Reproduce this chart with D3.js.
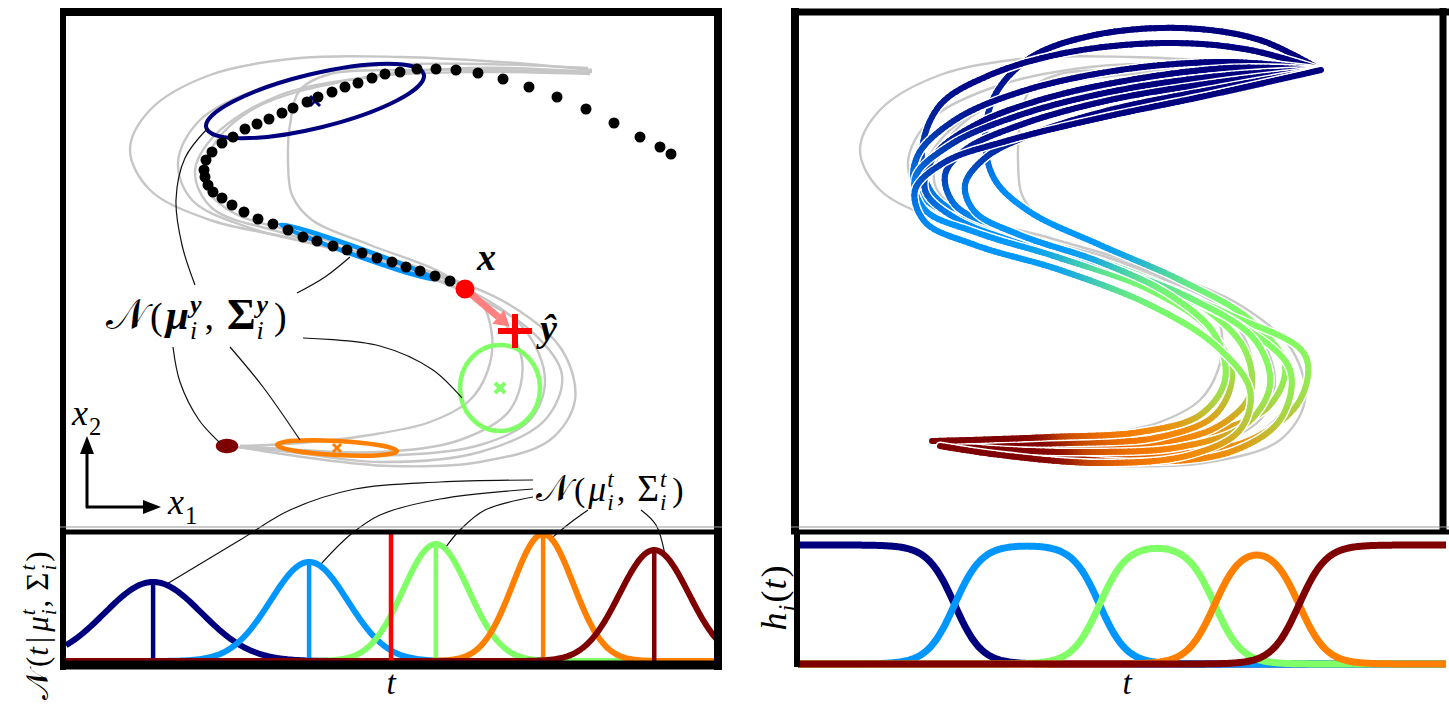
<!DOCTYPE html>
<html>
<head>
<meta charset="utf-8">
<script src="https://cdn.jsdelivr.net/npm/d3@7"></script>
<style>
  html, body { margin: 0; padding: 0; background: #fff; }
  svg { display: block; }
</style>
</head>
<body>
<svg id="fig" width="1449" height="705"></svg>
<script>
// ---------- model components (time-driven GMM, 5 states) ----------
const componentColors = ["#00007f", "#0096ff", "#80ff66", "#ff8000", "#7f0000"];
const timeMeans  = [0.134, 0.374, 0.569, 0.734, 0.905];
const timeSigmas = [0.0747, 0.0596, 0.0505, 0.0465, 0.0532];
const switchTimes = [0.244, 0.467, 0.644, 0.774];
const switchRate = 48;
const tNow = 0.5;

// spatial Gaussians N(mu_i^y, Sigma_i^y): centre (x1, x2), semi-axes, orientation in degrees
const spaceMeans  = [[249, 428], [292, 277], [434, 141], [271, 81], [161, 83]];
const spaceRadii  = [[112, 27], [82, 4], [40, 43], [60, 7], [9, 5]];
const spaceAngles = [13.7, -19.5, 0, -3, 0];

// demonstrations (x1, x2)
const demoA = [[526,459],[434,467],[334,472],[234,471],[144,454],[84,419],[64,379],[84,339],[144,309],[224,291],[314,267],[394,239],[464,199],[496,154],[479,109],[414,77],[314,67],[224,77],[169,82]];
const demoB = [[526,457],[434,459],[334,459],[264,455],[234,439],[224,404],[222,369],[226,334],[246,309],[304,284],[374,257],[414,229],[426,194],[422,159],[404,129],[364,107],[304,94],[234,86],[174,83]];
const demoC = [[524,455],[414,457],[314,453],[214,434],[149,394],[129,357],[146,321],[214,297],[314,271],[399,241],[459,199],[479,149],[464,109],[414,84],[334,74],[244,77],[174,82]];
const demoD = [[522,461],[414,465],[304,463],[204,444],[134,409],[112,367],[126,329],[184,301],[274,279],[364,253],[429,217],[456,169],[444,119],[394,89],[314,77],[234,79],[174,83]];
const demoE = [[524,457],[404,461],[284,449],[189,421],[146,381],[139,344],[166,317],[254,291],[354,261],[444,224],[496,179],[509,129],[484,89],[414,67],[324,63],[244,71],[179,81]];
const demos = [demoA, demoB, demoC, demoD, demoE];

// observed partial trajectory, current input x and prediction y-hat
const observed = [[605,375],[594,382],[574,392],[548,406],[520,420],[491,432],[463,442],[437,450],[412,456],[390,459],[370,460],[351,460],[334,457],[319,455],[306,451],[292,446],[279,442],[266,437],[252,432],[241,427],[227,421],[216,416],[203,410],[191,405],[179,400],[167,392],[156,386],[146,377],[140,369],[138,359],[139,352],[142,344],[147,337],[156,331],[166,324],[178,317],[192,310],[207,305],[222,299],[237,292],[251,288],[267,283],[281,279],[296,276],[311,271],[326,267],[340,262],[354,258],[369,253],[384,248]];
const currentPoint = [399, 240];
const predicted = [449, 198];

// reproductions (x1, x2)
const repro1 = [[525,459],[464,489],[384,501],[294,493],[234,471],[199,434],[189,389],[199,349],[234,317],[304,284],[384,249],[454,209],[489,164],[474,124],[424,99],[334,87],[234,83],[159,83]];
const repro2 = [[525,459],[454,479],[374,486],[274,477],[194,454],[144,424],[126,379],[134,339],[169,311],[244,284],[344,251],[434,214],[509,174],[504,129],[454,89],[364,74],[254,77],[149,84]];
const repro3 = [[525,459],[434,467],[324,459],[224,437],[159,409],[122,374],[119,341],[149,317],[224,291],[324,261],[404,224],[449,179],[454,134],[419,101],[344,84],[244,81],[144,86]];
const repro4 = [[525,459],[434,461],[334,449],[244,429],[179,404],[139,374],[129,339],[159,311],[244,279],[354,244],[444,204],[494,159],[484,109],[434,77],[344,67],[244,74],[154,83]];
const repro5 = [[525,459],[434,454],[324,439],[224,414],[154,384],[119,351],[129,319],[179,297],[264,271],[354,239],[414,199],[436,154],[419,114],[364,92],[274,86],[184,86],[139,88]];
const repro6 = [[525,459],[424,447],[314,429],[224,404],[169,379],[149,354],[159,324],[204,301],[294,269],[394,231],[459,189],[474,144],[449,104],[384,82],[284,77],[194,80],[144,85]];
const repro7 = [[525,459],[424,441],[314,419],[234,394],[189,371],[169,344],[179,317],[224,294],[304,267],[374,234],[419,194],[429,149],[404,114],[344,97],[254,92],[174,89],[136,88]];
const repro8 = [[525,459],[414,434],[304,411],[214,389],[149,367],[119,339],[129,307],[179,284],[264,259],[354,224],[419,184],[454,139],[444,99],[394,74],[304,66],[204,74],[144,83]];
const reproductions = [repro1, repro2, repro3, repro4, repro5, repro6, repro7, repro8];
// elapsed time versus travelled path fraction along a reproduction
const pathFraction = [0, 0.35, 0.545, 0.74, 0.88, 1];
const pathTime     = [0, 0.244, 0.467, 0.644, 0.774, 1];

// ---------- helpers ----------
const svg = d3.select("#fig");
const SERIF = "'Liberation Serif','DejaVu Serif',serif";
const fontStyles = {
  it:  { style: "italic", weight: "normal" },
  bi:  { style: "italic", weight: "bold" },
  bf:  { style: "normal", weight: "bold" },
  rm:  { style: "normal", weight: "normal" },
  cal: { style: "normal", weight: "normal", family: "'DejaVu Sans','DejaVu Serif','Noto Sans',serif" }
};

// lays out a formula piece by piece (base glyphs, stacked super/subscripts)
function mathLabel(parent, x, y, size, parts, opts = {}) {
  const outer = parent.append("g").attr("transform", `translate(${x},${y}) rotate(${opts.rotate || 0})`);
  const g = outer.append("g");
  let cx = 0;
  const put = (s, f, px, py, fs) => {
    const st = fontStyles[f || "it"];
    const t = g.append("text").attr("x", px).attr("y", py)
      .attr("font-size", fs).attr("font-family", st.family || SERIF)
      .attr("font-style", st.style).attr("font-weight", st.weight)
      .attr("fill", "#000").text(s);
    return t.node().getComputedTextLength();
  };
  parts.forEach(p => {
    const fs = size * (p.scale || 1);
    if (p.s !== undefined) {
      cx += put(p.s, p.f, cx, 0, fs) + (p.gap || 0);
    } else {
      let w = 0;
      if (p.sup) w = Math.max(w, put(p.sup, p.supf || "it", cx, -size * 0.42, size * 0.68));
      if (p.sub) w = Math.max(w, put(p.sub, p.subf || "it", cx, size * 0.27, size * 0.68));
      cx += w + (p.gap || size * 0.04);
    }
  });
  if (opts.anchor === "middle") g.attr("transform", `translate(${-cx / 2},0)`);
  return cx;
}

const gauss = (t, m, s) => Math.exp(-0.5 * ((t - m) / s) ** 2) / (s * Math.sqrt(2 * Math.PI));
const logistic = v => 1 / (1 + Math.exp(-v));
function activations(t) {
  const n = componentColors.length;
  const raw = d3.range(n).map(i => {
    let v = 1;
    if (i > 0) v *= logistic(switchRate * (t - switchTimes[i - 1]));
    if (i < n - 1) v *= 1 - logistic(switchRate * (t - switchTimes[i]));
    return v;
  });
  const sum = d3.sum(raw);
  return raw.map(v => v / sum);
}
const rgbColors = componentColors.map(c => d3.rgb(c));
function mixColor(t) {
  const h = activations(t);
  let r = 0, g = 0, b = 0;
  h.forEach((w, i) => { r += w * rgbColors[i].r; g += w * rgbColors[i].g; b += w * rgbColors[i].b; });
  return d3.rgb(r, g, b).formatHex();
}

// ---------- scales ----------
const x1Left  = d3.scaleLinear().domain([0, 650]).range([66, 716]);
const x1Right = d3.scaleLinear().domain([0, 650]).range([796, 1446]);
const x2Space = d3.scaleLinear().domain([0, 515]).range([529, 14]);
const tLeft   = d3.scaleLinear().domain([0, 1]).range([66, 716]);
const tRight  = d3.scaleLinear().domain([0, 1]).range([796, 1446]);
const densY   = d3.scaleLinear().domain([0, 8.92]).range([661, 529]);
const hY      = d3.scaleLinear().domain([0, 1]).range([664, 545]);
const timeAlongPath = d3.scaleLinear().domain(pathFraction).range(pathTime);

const defs = svg.append("defs");
defs.append("clipPath").attr("id", "clipLT").append("rect").attr("x", 66).attr("y", 14).attr("width", 650).attr("height", 515);
defs.append("clipPath").attr("id", "clipRT").append("rect").attr("x", 798).attr("y", 14).attr("width", 642).attr("height", 515);
defs.append("clipPath").attr("id", "clipLB").append("rect").attr("x", 66).attr("y", 533).attr("width", 650).attr("height", 130);
defs.append("clipPath").attr("id", "clipRB").append("rect").attr("x", 798).attr("y", 533).attr("width", 651).attr("height", 135);

const smooth = d3.curveCatmullRom.alpha(0.5);
const lineLeft  = d3.line().x(d => x1Left(d[0])).y(d => x2Space(d[1])).curve(smooth);
const lineRight = d3.line().x(d => x1Right(d[0])).y(d => x2Space(d[1])).curve(smooth);
const pxLine = d3.line().curve(smooth);

// ---------- left top: demonstrations, Gaussians, trajectory ----------
const lt = svg.append("g").attr("clip-path", "url(#clipLT)");
lt.selectAll("path.demo").data(demos).join("path").attr("class", "demo")
  .attr("d", lineLeft).attr("fill", "none").attr("stroke", "#c6c6c6").attr("stroke-width", 2.4);

const unit = x1Left(1) - x1Left(0);
spaceMeans.forEach((m, i) => {
  const cx = x1Left(m[0]), cy = x2Space(m[1]);
  lt.append("ellipse").attr("cx", cx).attr("cy", cy)
    .attr("rx", spaceRadii[i][0] * unit).attr("ry", spaceRadii[i][1] * unit)
    .attr("transform", `rotate(${-spaceAngles[i]},${cx},${cy})`)
    .attr("fill", i === 4 ? componentColors[i] : "none")
    .attr("stroke", componentColors[i]).attr("stroke-width", i === 0 ? 4 : 4.5);
});
// centre markers
[0, 2, 3].forEach(i => {
  const cx = x1Left(spaceMeans[i][0]), cy = x2Space(spaceMeans[i][1]);
  const s = i === 3 ? 4 : 5;
  lt.append("path").attr("d", `M${cx - s},${cy - s}L${cx + s},${cy + s}M${cx - s},${cy + s}L${cx + s},${cy - s}`)
    .attr("stroke", componentColors[i]).attr("stroke-width", i === 2 ? 4 : 3).attr("fill", "none");
});

lt.selectAll("circle.obs").data(observed).join("circle").attr("class", "obs")
  .attr("cx", d => x1Left(d[0])).attr("cy", d => x2Space(d[1])).attr("r", 5.5).attr("fill", "#000");

// regression arrow x -> y-hat
{
  const ax = x1Left(currentPoint[0]), ay = x2Space(currentPoint[1]);
  const bx = x1Left(predicted[0]), by = x2Space(predicted[1]);
  const ang = Math.atan2(by - ay, bx - ax);
  const tipX = bx - 7 * Math.cos(ang), tipY = by - 7 * Math.sin(ang);
  const headL = 15, headW = 9;
  const baseX = tipX - headL * Math.cos(ang), baseY = tipY - headL * Math.sin(ang);
  lt.append("line").attr("x1", ax).attr("y1", ay).attr("x2", baseX).attr("y2", baseY)
    .attr("stroke", "#ff8080").attr("stroke-width", 7);
  const nx = -Math.sin(ang), ny = Math.cos(ang);
  lt.append("path").attr("d", `M${tipX},${tipY}L${baseX + headW * nx},${baseY + headW * ny}L${baseX - headW * nx},${baseY - headW * ny}Z`)
    .attr("fill", "#ff8080");
  lt.append("circle").attr("cx", ax).attr("cy", ay).attr("r", 9.5).attr("fill", "#ff0000");
  const s = 17;
  lt.append("path").attr("d", `M${bx - s},${by}L${bx + s},${by}M${bx},${by - s}L${bx},${by + s}`)
    .attr("stroke", "#ff0000").attr("stroke-width", 6).attr("fill", "none");
}

// axis indicator
const ind = svg.append("g");
ind.append("line").attr("x1", 87).attr("y1", 508).attr("x2", 87).attr("y2", 452).attr("stroke", "#000").attr("stroke-width", 3);
ind.append("path").attr("d", "M87,436L80,454L94,454Z").attr("fill", "#000");
ind.append("line").attr("x1", 86).attr("y1", 507).attr("x2", 144).attr("y2", 507).attr("stroke", "#000").attr("stroke-width", 3);
ind.append("path").attr("d", "M161,507L143,500L143,514Z").attr("fill", "#000");
mathLabel(svg, 72, 425, 36, [{ s: "x", f: "it", gap: 1 }, { sub: "2", subf: "rm" }]);
mathLabel(svg, 168, 514, 36, [{ s: "x", f: "it", gap: 1 }, { sub: "1", subf: "rm" }]);

// labels in the state space
mathLabel(svg, 477, 270, 38, [{ s: "x", f: "bi" }]);
mathLabel(svg, 540, 341, 38, [{ s: "ŷ", f: "bi" }]);
mathLabel(svg, 106, 329, 38, [
  { s: "𝒩", f: "cal", scale: 1.12, gap: 3 }, { s: "(", f: "rm", gap: 3 }, { s: "μ", f: "bi", scale: 1.1, gap: 1 },
  { sup: "y", supf: "bi", sub: "i", subf: "it", gap: 3 }, { s: ",", f: "rm", gap: 13 },
  { s: "Σ", f: "bf", scale: 1.15, gap: 1 }, { sup: "y", supf: "bi", sub: "i", subf: "it", gap: 6 }, { s: ")", f: "rm" }
]);
mathLabel(svg, 536, 501, 34, [
  { s: "𝒩", f: "cal", scale: 1.1, gap: 3 }, { s: "(", f: "rm", gap: 3 }, { s: "μ", f: "it", scale: 1.05, gap: 1 },
  { sup: "t", sub: "i", gap: 3 }, { s: ",", f: "rm", gap: 12 },
  { s: "Σ", f: "rm", scale: 1.1, gap: 1 }, { sup: "t", sub: "i", gap: 6 }, { s: ")", f: "rm" }
]);

// leader lines
const leaders = svg.append("g").attr("fill", "none").attr("stroke", "#111").attr("stroke-width", 1.2);
const ellipseLeaders = [
  [[195,285],[182,245],[176,200],[185,158],[207,129]],
  [[297,293],[325,277],[350,257]],
  [[303,338],[380,346],[433,370],[462,398]],
  [[230,347],[263,387],[300,440]],
  [[173,347],[180,382],[199,420],[220,443]]
];
ellipseLeaders.forEach(p => leaders.append("path").attr("d", pxLine(p)));
const peakStarts = [
  [[533,480],[440,482],[355,489],[290,510],[240,540]],
  [[533,489],[440,499],[380,515],[350,535]],
  [[533,497],[485,510],[460,530]],
  [[588,510],[570,523]],
  [[641,510],[656,525]]
];
peakStarts.forEach((p, i) => {
  const te = timeMeans[i] + 0.3 * timeSigmas[i];
  const end = [tLeft(te), densY(gauss(te, timeMeans[i], timeSigmas[i])) - 2];
  leaders.append("path").attr("d", pxLine(p.concat([end])));
});

// ---------- left bottom: N(t | mu_i^t, Sigma_i^t) ----------
const lb = svg.append("g").attr("clip-path", "url(#clipLB)");
const tSamples = d3.range(0, 1.0001, 0.002);
componentColors.forEach((c, i) => {
  lb.append("path")
    .attr("d", d3.line().x(t => tLeft(t)).y(t => densY(gauss(t, timeMeans[i], timeSigmas[i])))(tSamples))
    .attr("fill", "none").attr("stroke", c).attr("stroke-width", 6);
  lb.append("line").attr("x1", tLeft(timeMeans[i])).attr("x2", tLeft(timeMeans[i]))
    .attr("y1", densY(0)).attr("y2", densY(gauss(timeMeans[i], timeMeans[i], timeSigmas[i])))
    .attr("stroke", c).attr("stroke-width", 4.5);
});
lb.append("line").attr("x1", tLeft(tNow)).attr("x2", tLeft(tNow)).attr("y1", 529).attr("y2", densY(0))
  .attr("stroke", "#ff0000").attr("stroke-width", 4.5);

mathLabel(svg, 48, 700, 31, [
  { s: "𝒩", f: "cal", gap: 3 }, { s: "(", f: "rm", gap: 1 }, { s: "t", f: "it", gap: 4 },
  { s: "|", f: "rm", gap: 5 }, { s: "μ", f: "it", gap: 1 }, { sup: "t", sub: "i", gap: 2 },
  { s: ",", f: "rm", gap: 9 }, { s: "Σ", f: "rm", gap: 2 }, { sup: "t", sub: "i", gap: 3 }, { s: ")", f: "rm" }
], { rotate: -90 });
mathLabel(svg, 391, 694, 33, [{ s: "t", f: "it" }], { anchor: "middle" });

// ---------- right top: demonstrations and reproductions ----------
const rt = svg.append("g").attr("clip-path", "url(#clipRT)");
rt.selectAll("path.demo").data(demos).join("path").attr("class", "demo")
  .attr("d", lineRight).attr("fill", "none").attr("stroke", "#c8c8c8").attr("stroke-width", 2.4);

reproductions.forEach(pts => {
  const halo = rt.append("path").attr("d", lineRight(pts)).attr("fill", "none")
    .attr("stroke", "#fff").attr("stroke-width", 9).attr("stroke-linecap", "round");
  const node = halo.node();
  const L = node.getTotalLength();
  const N = 260;
  const samples = d3.range(N + 1).map(k => node.getPointAtLength(L * k / N));
  const segs = d3.range(N).map(k => ({ a: samples[k], b: samples[k + 1], t: timeAlongPath((k + 0.5) / N) }));
  rt.append("g").selectAll("line").data(segs).join("line")
    .attr("x1", d => d.a.x).attr("y1", d => d.a.y).attr("x2", d => d.b.x).attr("y2", d => d.b.y)
    .attr("stroke", d => mixColor(d.t)).attr("stroke-width", 6).attr("stroke-linecap", "round");
});

// ---------- right bottom: activations h_i(t) ----------
const rb = svg.append("g").attr("clip-path", "url(#clipRB)");
componentColors.forEach((c, i) => {
  rb.append("path")
    .attr("d", d3.line().x(t => tRight(t)).y(t => hY(activations(t)[i]))(tSamples))
    .attr("fill", "none").attr("stroke", c).attr("stroke-width", 7);
});
mathLabel(svg, 786, 598, 36, [{ s: "h", f: "it", gap: 1 }, { sub: "i", gap: 2 }, { s: "(", f: "rm", gap: 1 }, { s: "t", f: "it", gap: 2 }, { s: ")", f: "rm" }], { rotate: -90, anchor: "middle" });
mathLabel(svg, 1127, 694, 33, [{ s: "t", f: "it" }], { anchor: "middle" });

// ---------- frames ----------
const fr = svg.append("g").attr("stroke", "#000").attr("fill", "none");
// left figure
fr.append("line").attr("x1", 60).attr("x2", 722).attr("y1", 12).attr("y2", 12).attr("stroke-width", 8);
fr.append("line").attr("x1", 63).attr("x2", 63).attr("y1", 8).attr("y2", 670).attr("stroke-width", 6);
fr.append("line").attr("x1", 718).attr("x2", 718).attr("y1", 8).attr("y2", 670).attr("stroke-width", 8);
fr.append("line").attr("x1", 60).attr("x2", 722).attr("y1", 527).attr("y2", 527).attr("stroke-width", 1).attr("stroke", "#999");
fr.append("line").attr("x1", 60).attr("x2", 722).attr("y1", 532).attr("y2", 532).attr("stroke-width", 5);
fr.append("line").attr("x1", 60).attr("x2", 722).attr("y1", 665).attr("y2", 665).attr("stroke-width", 9);
// right figure
fr.append("line").attr("x1", 791).attr("x2", 1449).attr("y1", 12).attr("y2", 12).attr("stroke-width", 7);
fr.append("line").attr("x1", 795).attr("x2", 795).attr("y1", 8).attr("y2", 531).attr("stroke-width", 8);
fr.append("line").attr("x1", 1443).attr("x2", 1443).attr("y1", 8).attr("y2", 531).attr("stroke-width", 7);
fr.append("line").attr("x1", 791).attr("x2", 1449).attr("y1", 527).attr("y2", 527).attr("stroke-width", 1).attr("stroke", "#999");
fr.append("line").attr("x1", 791).attr("x2", 1449).attr("y1", 532).attr("y2", 532).attr("stroke-width", 5);
fr.append("line").attr("x1", 797).attr("x2", 797).attr("y1", 531).attr("y2", 667).attr("stroke-width", 6);
</script>
</body>
</html>
